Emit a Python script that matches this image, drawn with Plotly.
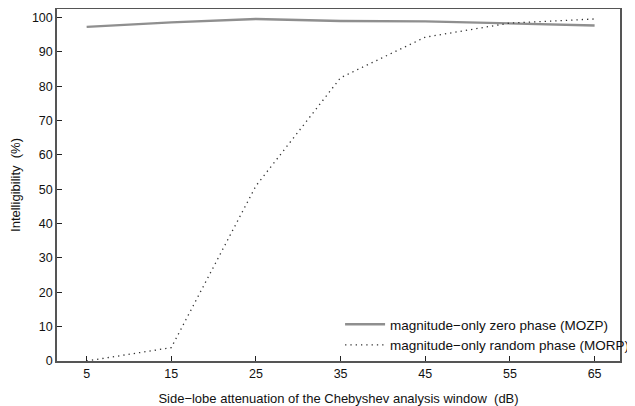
import plotly.graph_objects as go

atten_db = [5, 15, 25, 35, 45, 55, 65]
mozp = [97.3, 98.6, 99.6, 99.0, 98.9, 98.3, 97.7]
morp = [0.0, 3.9, 51.0, 82.5, 94.3, 98.4, 99.6]
x_ticks = [5, 15, 25, 35, 45, 55, 65]
y_ticks = [0, 10, 20, 30, 40, 50, 60, 70, 80, 90, 100]

fig = go.Figure()
fig.add_trace(go.Scatter(x=atten_db, y=mozp, mode="lines",
                         name="magnitude\u2212only zero phase (MOZP)",
                         line=dict(color="#8f8f8f", width=2.4)))
fig.add_trace(go.Scatter(x=atten_db, y=morp, mode="lines",
                         name="magnitude\u2212only random phase (MORP)",
                         line=dict(color="#333333", width=1.3, dash="1.3px,4px")))

font = "Liberation Sans, Arial, Helvetica, sans-serif"
# page body has an 8px default margin; figure sized to fit the window
fig.update_layout(
    width=627, height=398,
    margin=dict(l=49, r=8, t=1, b=45),
    paper_bgcolor="white", plot_bgcolor="white",
    font=dict(family=font, size=13, color="#111"),
    showlegend=True,
    legend=dict(x=1.025, y=0.0, xanchor="right", yanchor="bottom",
                bgcolor="rgba(0,0,0,0)", font=dict(size=13.5, family=font),
                tracegroupgap=0, itemwidth=40),
    xaxis=dict(range=[1.5, 68], tickvals=x_ticks, ticks="inside", ticklen=5,
               tickcolor="#222", showgrid=False, zeroline=False, automargin=False,
               showline=True, linecolor="#555", linewidth=1.5, mirror=True,
               tickfont=dict(size=12.5),
               title=dict(text="Side\u2212lobe attenuation of the Chebyshev analysis window  (dB)",
                          font=dict(size=13), standoff=15)),
    yaxis=dict(range=[0, 102.5], tickvals=y_ticks, ticks="inside", ticklen=5,
               tickcolor="#222", showgrid=False, zeroline=False, automargin=False,
               showline=True, linecolor="#555", linewidth=1.5, mirror=True,
               tickfont=dict(size=12.5),
               title=dict(text="Intelligibility  (%)", font=dict(size=13), standoff=9)),
)
fig.write_html("out.html")
